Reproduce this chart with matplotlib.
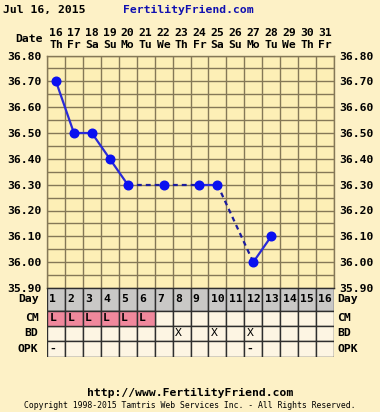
import numpy as np
import matplotlib
matplotlib.use("Agg")
import matplotlib.pyplot as plt
from matplotlib.transforms import blended_transform_factory

# Chart data
days = list(range(1, 17))
dates = [16, 17, 18, 19, 20, 21, 22, 23, 24, 25, 26, 27, 28, 29, 30, 31]
weekdays = ["Th", "Fr", "Sa", "Su", "Mo", "Tu", "We", "Th", "Fr", "Sa", "Su", "Mo", "Tu", "We", "Th", "Fr"]
temp_days = [1, 2, 3, 4, 5, 7, 9, 10, 12, 13]
temps = [36.70, 36.50, 36.50, 36.40, 36.30, 36.30, 36.30, 36.30, 36.00, 36.10]
cm = ["L", "L", "L", "L", "L", "L", "", "", "", "", "", "", "", "", "", ""]
bd = ["", "", "", "", "", "", "", "X", "", "X", "", "X", "", "", "", ""]
opk = ["-", "", "", "", "", "", "", "", "", "", "", "-", "", "", "", ""]
row_names = ["Day", "CM", "BD", "OPK"]
row_heights = [22.5, 15.3, 15.0, 15.5]

BG = "#fdf1c6"
PLOT_BG = "#fdefb6"
CELL_BG = "#fdf5e3"
GRID = "#857857"
TAB_LINE = "#2e2e2e"
FONT = "DejaVu Sans Mono"

fig = plt.figure(figsize=(3.8, 4.12), dpi=100)
fig.patch.set_facecolor(BG)

W, H = 380.0, 412.0
def box(x0, y0, x1, y1):
    return [x0 / W, 1 - y1 / H, (x1 - x0) / W, (y1 - y0) / H]

# ---- temperature chart ----
ax = fig.add_axes(box(47, 55.5, 334, 288))
ax.set_facecolor(PLOT_BG)
ax.set_xlim(0.5, 16.5)
ax.set_ylim(35.9, 36.8)
ax.set_xticks(np.arange(0.5, 17, 1))
ax.set_xticklabels([])
ax.set_yticks(np.arange(35.9, 36.81, 0.05), minor=True)
ax.set_yticks(np.arange(35.9, 36.81, 0.1))
ax.set_yticklabels(["%.2f" % v for v in np.arange(35.9, 36.81, 0.1)])
ax.tick_params(axis="y", which="both", length=0, labelright=True, labelsize=8.2, pad=4)
ax.tick_params(axis="x", length=0)
for lab in ax.get_yticklabels():
    lab.set_fontfamily(FONT)
    lab.set_fontweight("bold")
ax.grid(True, which="both", color=GRID, linewidth=1)
for s in ax.spines.values():
    s.set_color(GRID)
    s.set_linewidth(1)
ax.spines["bottom"].set_color(TAB_LINE)
ax.set_axisbelow(True)

# solid between consecutive days, dashed across gaps
for i in range(len(temp_days) - 1):
    xs = temp_days[i:i + 2]
    ys = temps[i:i + 2]
    if xs[1] - xs[0] == 1:
        ax.plot(xs, ys, color="#2a2ad8", linewidth=1.6, zorder=3)
    else:
        ax.plot(xs, ys, color="#1c1c9c", linewidth=1.6, linestyle=(0, (2.2, 1.8)), zorder=3)
ax.plot(temp_days, temps, "o", color="#0a10f0", markersize=6.2, zorder=4)

# date header
tr = blended_transform_factory(ax.transData, fig.transFigure)
for d, dt, wd in zip(days, dates, weekdays):
    ax.text(d, 1 - 33 / H, str(dt), transform=tr, ha="center", va="center",
            fontsize=8.2, fontweight="bold", family=FONT)
    ax.text(d, 1 - 45 / H, wd, transform=tr, ha="center", va="center",
            fontsize=8.2, fontweight="bold", family=FONT)
fig.text(43 / W, 1 - 39 / H, "Date", ha="right", va="center", fontsize=8.2,
         fontweight="bold", family=FONT)

# ---- table ----
tab = fig.add_axes(box(47, 288, 334, 356.5))
total = sum(row_heights)
tab.set_xlim(0.5, 16.5)
tab.set_ylim(total, 0)
tab.set_axis_off()
tops = np.cumsum([0] + row_heights[:-1])
tab.bar(days, row_heights[0], bottom=tops[0], width=1, color="#c9c8c6", edgecolor=TAB_LINE, linewidth=1)
for r in range(1, 4):
    tab.bar(days, row_heights[r], bottom=tops[r], width=1, color=CELL_BG, edgecolor=TAB_LINE, linewidth=1)
cm_days = [d for d, v in zip(days, cm) if v]
tab.bar(cm_days, row_heights[1], bottom=tops[1], width=1, color="#f0889c", edgecolor=TAB_LINE, linewidth=1)

rows = [[str(d) for d in days], cm, bd, opk]
for r, vals in enumerate(rows):
    yc = tops[r] + row_heights[r] / 2
    for d, v in zip(days, vals):
        if v:
            tab.text(d - 0.5 + 0.13, yc, v, ha="left", va="center", fontsize=8.2,
                     fontweight="bold" if r != 2 else "normal", family=FONT)
    tab.text(-0.03, yc, row_names[r], ha="right", va="center", fontsize=8.2,
             fontweight="bold", family=FONT, transform=blended_transform_factory(tab.transAxes, tab.transData))
    tab.text(1.012, yc, row_names[r], ha="left", va="center", fontsize=8.2,
             fontweight="bold", family=FONT, transform=blended_transform_factory(tab.transAxes, tab.transData))

# ---- header / footer text ----
fig.text(3 / W, 1 - 10 / H, "Jul 16, 2015", ha="left", va="center", fontsize=8.2,
         fontweight="bold", family=FONT)
fig.text(188 / W, 1 - 10 / H, "FertilityFriend.com", ha="center", va="center", fontsize=8.2,
         fontweight="bold", family=FONT, color="#1010b0")
fig.text(0.5, 1 - 393 / H, "http://www.FertilityFriend.com", ha="center", va="center",
         fontsize=8.2, fontweight="bold", family=FONT)
fig.text(0.5, 1 - 406 / H, "Copyright 1998-2015 Tamtris Web Services Inc. - All Rights Reserved.",
         ha="center", va="center", fontsize=5.9, family=FONT)

fig.savefig("out.png", dpi=100, facecolor=BG)
